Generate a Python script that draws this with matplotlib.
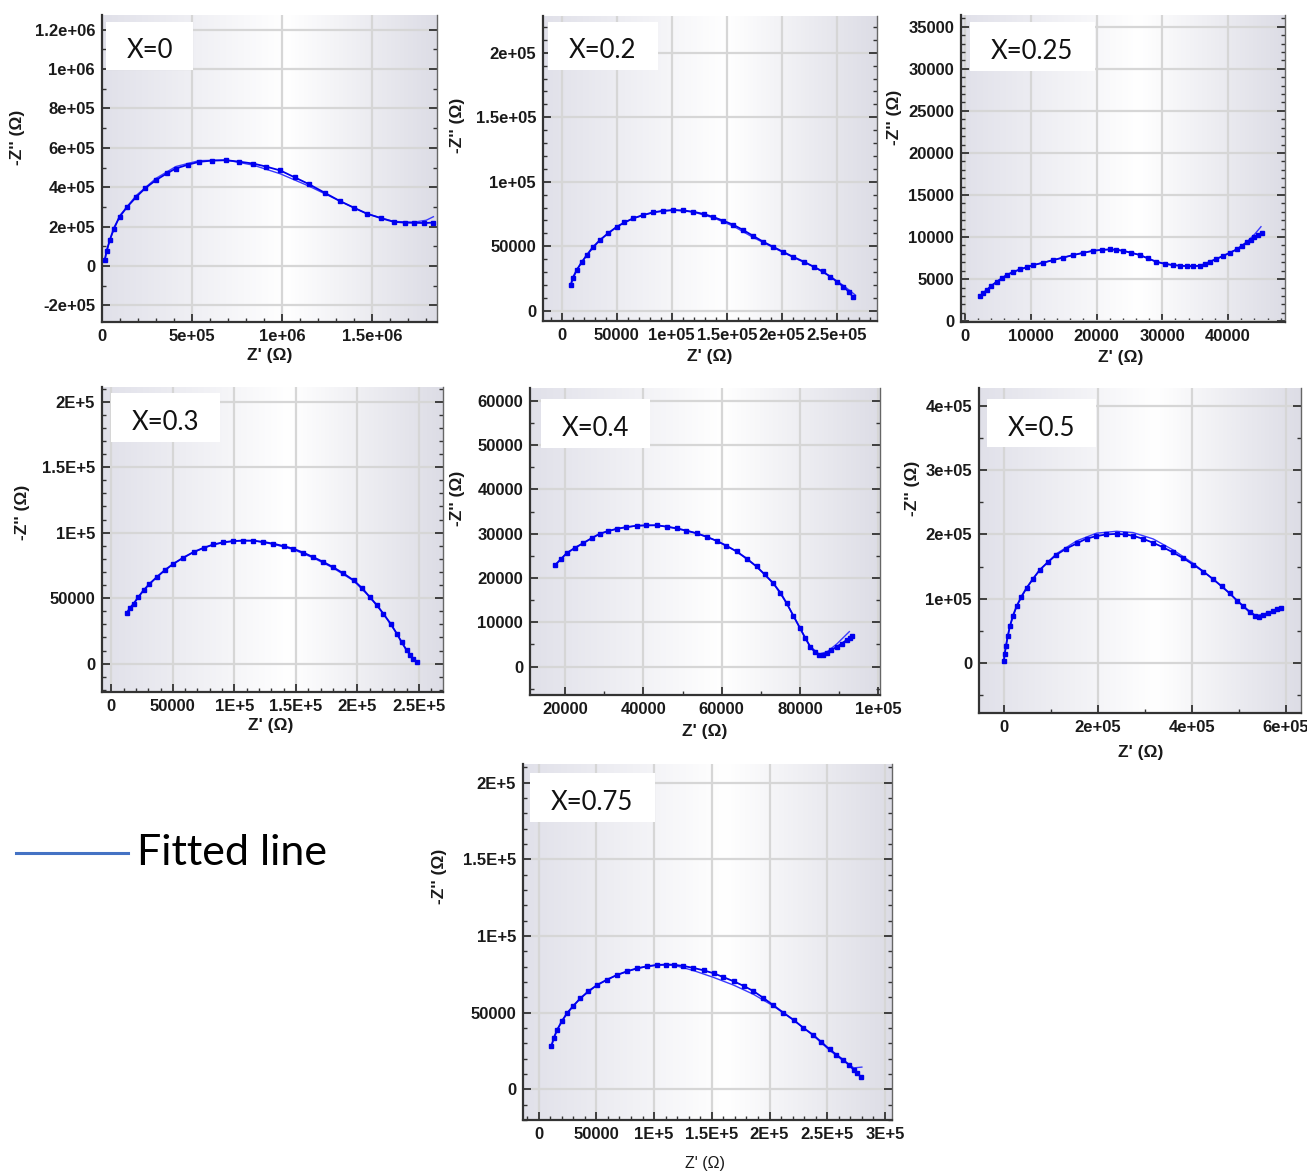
import numpy as np
import matplotlib
matplotlib.use("Agg")
import matplotlib.pyplot as plt
from matplotlib.patches import Rectangle
from matplotlib.lines import Line2D
from matplotlib.ticker import AutoMinorLocator
from matplotlib.colors import LinearSegmentedColormap

W, H = 1307, 1176

plt.rcParams['font.family'] = ['Liberation Sans', 'DejaVu Sans']
plt.rcParams['font.weight'] = 'bold'
plt.rcParams['axes.labelweight'] = 'bold'

# ---- data ----
titles = ["X=0", "X=0.2", "X=0.25", "X=0.3", "X=0.4", "X=0.5", "X=0.75"]

# X=0
x0_data = [1.5e4, 2.5e4, 4.3e4, 6.5e4, 9.8e4, 1.4e5, 1.9e5, 2.4e5, 3.0e5, 3.6e5, 4.1e5, 4.8e5, 5.4e5, 6.1e5,
           6.9e5, 7.6e5, 8.4e5, 9.1e5, 9.9e5, 1.07e6, 1.15e6, 1.24e6, 1.32e6, 1.4e6, 1.47e6, 1.55e6, 1.62e6,
           1.68e6, 1.73e6, 1.79e6, 1.84e6]
y0_data = [2.9e4, 7.5e4, 1.3e5, 1.9e5, 2.5e5, 3.0e5, 3.5e5, 3.95e5, 4.36e5, 4.7e5, 4.95e5, 5.15e5, 5.29e5, 5.35e5,
           5.37e5, 5.3e5, 5.2e5, 5.05e5, 4.85e5, 4.5e5, 4.15e5, 3.7e5, 3.3e5, 2.95e5, 2.66e5, 2.42e5, 2.24e5,
           2.2e5, 2.19e5, 2.18e5, 2.2e5]
x0_fit = [1.5e4, 4.3e4, 9.8e4, 1.9e5, 3.0e5, 4.1e5, 5.4e5, 6.9e5, 8.4e5, 9.9e5, 1.15e6, 1.32e6, 1.47e6, 1.62e6,
          1.73e6, 1.8e6, 1.84e6]
y0_fit = [2.9e4, 1.32e5, 2.55e5, 3.58e5, 4.45e5, 5.05e5, 5.35e5, 5.38e5, 5.12e5, 4.68e5, 4.05e5, 3.3e5, 2.65e5,
          2.26e5, 2.22e5, 2.32e5, 2.5e5]

# X=0.2
x1_data = [8.2e3, 1.0e4, 1.36e4, 1.8e4, 2.27e4, 2.8e4, 3.48e4, 4.2e4, 5.0e4, 5.7e4, 6.5e4, 7.4e4, 8.3e4, 9.2e4,
           1.015e5, 1.1e5, 1.197e5, 1.29e5, 1.379e5, 1.47e5, 1.56e5, 1.65e5, 1.74e5, 1.83e5, 1.92e5, 2.01e5,
           2.1e5, 2.2e5, 2.29e5, 2.37e5, 2.44e5, 2.5e5, 2.56e5, 2.61e5, 2.65e5]
y1_data = [1.99e4, 2.55e4, 3.15e4, 3.75e4, 4.3e4, 4.9e4, 5.48e4, 6.0e4, 6.5e4, 6.85e4, 7.16e4, 7.42e4, 7.62e4,
           7.75e4, 7.8e4, 7.78e4, 7.67e4, 7.5e4, 7.26e4, 6.97e4, 6.66e4, 6.25e4, 5.8e4, 5.35e4, 4.96e4, 4.57e4,
           4.19e4, 3.8e4, 3.41e4, 3.05e4, 2.64e4, 2.25e4, 1.86e4, 1.45e4, 1.03e4]
x1_fit = [8.2e3, 1.36e4, 2.27e4, 3.48e4, 5.0e4, 6.5e4, 8.3e4, 1.015e5, 1.197e5, 1.379e5, 1.56e5, 1.74e5, 1.92e5,
          2.1e5, 2.29e5, 2.44e5, 2.56e5, 2.67e5]
y1_fit = [1.99e4, 3.15e4, 4.3e4, 5.48e4, 6.5e4, 7.16e4, 7.62e4, 7.8e4, 7.65e4, 7.2e4, 6.55e4, 5.68e4, 4.9e4,
          4.15e4, 3.4e4, 2.66e4, 1.95e4, 1.2e4]

# X=0.25
x2_data = [2280, 2800, 3290, 4000, 4810, 5600, 6330, 7300, 8350, 9400, 1.04e4, 1.19e4, 1.34e4, 1.49e4, 1.646e4,
           1.8e4, 1.95e4, 2.08e4, 2.2e4, 2.3e4, 2.4e4, 2.53e4, 2.66e4, 2.78e4, 2.91e4, 3.04e4, 3.16e4, 3.27e4,
           3.37e4, 3.47e4, 3.57e4, 3.65e4, 3.72e4, 3.82e4, 3.92e4, 4.03e4, 4.13e4, 4.21e4, 4.28e4, 4.35e4,
           4.4e4, 4.46e4, 4.52e4]
y2_data = [2980, 3350, 3690, 4200, 4680, 5100, 5480, 5850, 6150, 6420, 6670, 6950, 7260, 7560, 7860, 8130, 8370,
           8480, 8530, 8500, 8370, 8130, 7860, 7460, 7060, 6800, 6670, 6580, 6550, 6530, 6590, 6780, 7060, 7390,
           7740, 8140, 8530, 8950, 9370, 9680, 9960, 10200, 10440]
x2_fit = [2280, 3290, 4810, 6330, 8350, 1.04e4, 1.34e4, 1.646e4, 1.95e4, 2.2e4, 2.4e4, 2.66e4, 2.91e4, 3.16e4,
          3.37e4, 3.57e4, 3.72e4, 3.92e4, 4.13e4, 4.28e4, 4.4e4, 4.5e4]
y2_fit = [2980, 3690, 4680, 5480, 6150, 6670, 7260, 7860, 8370, 8530, 8370, 7860, 7060, 6670, 6550, 6590, 7060,
          7740, 8530, 9370, 10300, 11230]

# X=0.3
x3_data = [1.27e4, 1.5e4, 1.81e4, 2.2e4, 2.62e4, 3.1e4, 3.7e4, 4.35e4, 5.05e4, 5.85e4, 6.68e4, 7.5e4, 8.3e4,
           9.1e4, 9.9e4, 1.07e5, 1.154e5, 1.235e5, 1.316e5, 1.4e5, 1.478e5, 1.56e5, 1.64e5, 1.72e5, 1.8e5,
           1.885e5, 1.97e5, 2.04e5, 2.1e5, 2.16e5, 2.21e5, 2.27e5, 2.32e5, 2.36e5, 2.4e5, 2.43e5, 2.45e5, 2.48e5]
y3_data = [3.89e4, 4.25e4, 4.58e4, 5.1e4, 5.6e4, 6.1e4, 6.62e4, 7.15e4, 7.63e4, 8.1e4, 8.52e4, 8.85e4, 9.1e4,
           9.27e4, 9.36e4, 9.4e4, 9.39e4, 9.3e4, 9.16e4, 8.98e4, 8.78e4, 8.48e4, 8.14e4, 7.78e4, 7.38e4, 6.9e4,
           6.36e4, 5.75e4, 5.09e4, 4.45e4, 3.82e4, 3.05e4, 2.29e4, 1.62e4, 1.02e4, 6.5e3, 3.8e3, 1.3e3]
x3_fit = [1.27e4, 1.81e4, 2.62e4, 3.7e4, 5.05e4, 6.68e4, 8.3e4, 9.9e4, 1.154e5, 1.316e5, 1.478e5, 1.64e5,
          1.8e5, 1.97e5, 2.1e5, 2.21e5, 2.32e5, 2.4e5, 2.45e5, 2.48e5]
y3_fit = [3.89e4, 4.58e4, 5.6e4, 6.62e4, 7.63e4, 8.52e4, 9.1e4, 9.36e4, 9.39e4, 9.12e4, 8.72e4, 8.08e4, 7.32e4,
          6.32e4, 5.09e4, 3.82e4, 2.29e4, 1.02e4, 3.8e3, 1.3e3]

# X=0.4
x4_data = [1.745e4, 1.9e4, 2.04e4, 2.25e4, 2.47e4, 2.68e4, 2.89e4, 3.1e4, 3.32e4, 3.57e4, 3.83e4, 4.08e4,
           4.34e4, 4.6e4, 4.85e4, 5.1e4, 5.36e4, 5.62e4, 5.87e4, 6.12e4, 6.38e4, 6.64e4, 6.89e4, 7.1e4, 7.32e4,
           7.5e4, 7.66e4, 7.83e4, 8.0e4, 8.13e4, 8.26e4, 8.38e4, 8.49e4, 8.58e4, 8.68e4, 8.8e4, 8.94e4, 9.06e4,
           9.19e4, 9.27e4, 9.34e4]
y4_data = [2.29e4, 2.43e4, 2.56e4, 2.68e4, 2.79e4, 2.9e4, 3.0e4, 3.06e4, 3.11e4, 3.15e4, 3.18e4, 3.19e4,
           3.19e4, 3.16e4, 3.12e4, 3.07e4, 3.01e4, 2.93e4, 2.84e4, 2.73e4, 2.6e4, 2.44e4, 2.26e4, 2.08e4,
           1.88e4, 1.67e4, 1.43e4, 1.15e4, 8.7e3, 6.5e3, 4.5e3, 3.3e3, 2.6e3, 2.6e3, 3.0e3, 3.7e3, 4.5e3,
           5.2e3, 6.0e3, 6.5e3, 6.9e3]
x4_fit = [1.745e4, 2.04e4, 2.47e4, 2.89e4, 3.32e4, 3.83e4, 4.34e4, 4.85e4, 5.36e4, 5.87e4, 6.38e4, 6.89e4,
          7.32e4, 7.66e4, 8.0e4, 8.26e4, 8.49e4, 8.7e4, 8.95e4, 9.26e4]
y4_fit = [2.29e4, 2.56e4, 2.79e4, 3.0e4, 3.11e4, 3.18e4, 3.19e4, 3.12e4, 3.01e4, 2.84e4, 2.6e4, 2.26e4,
          1.88e4, 1.43e4, 8.7e3, 4.6e3, 2.8e3, 3.4e3, 5.2e3, 7.9e3]

# X=0.5
x5_data = [0, 1.5e3, 4.3e3, 8e3, 1.28e4, 1.9e4, 2.7e4, 3.7e4, 4.83e4, 6.2e4, 7.67e4, 9.4e4, 1.12e5, 1.33e5,
           1.55e5, 1.76e5, 1.97e5, 2.18e5, 2.4e5, 2.58e5, 2.75e5, 2.97e5, 3.18e5, 3.39e5, 3.6e5, 3.82e5, 4.03e5,
           4.25e5, 4.46e5, 4.64e5, 4.81e5, 4.96e5, 5.1e5, 5.23e5, 5.35e5, 5.44e5, 5.52e5, 5.63e5, 5.74e5,
           5.82e5, 5.89e5]
y5_data = [3e3, 1.3e4, 2.55e4, 4.1e4, 5.67e4, 7.3e4, 8.79e4, 1.03e5, 1.165e5, 1.31e5, 1.45e5, 1.57e5, 1.685e5,
           1.78e5, 1.86e5, 1.935e5, 1.975e5, 2.0e5, 2.01e5, 2.0e5, 1.98e5, 1.93e5, 1.87e5, 1.8e5, 1.72e5,
           1.63e5, 1.53e5, 1.42e5, 1.3e5, 1.19e5, 1.08e5, 9.7e4, 8.79e4, 7.9e4, 7.33e4, 7.2e4, 7.49e4, 7.8e4,
           8.0e4, 8.3e4, 8.58e4]
x5_fit = [0, 4.3e3, 1.28e4, 2.7e4, 4.83e4, 7.67e4, 1.12e5, 1.55e5, 1.97e5, 2.4e5, 2.75e5, 3.18e5, 3.6e5,
          4.03e5, 4.46e5, 4.81e5, 5.1e5, 5.35e5, 5.52e5, 5.74e5, 5.89e5]
y5_fit = [3e3, 2.55e4, 5.67e4, 8.79e4, 1.165e5, 1.451e5, 1.7e5, 1.9e5, 2.02e5, 2.05e5, 2.03e5, 1.93e5, 1.76e5,
          1.55e5, 1.3e5, 1.08e5, 8.8e4, 7.4e4, 7.5e4, 8.0e4, 8.6e4]

# X=0.75
x6_data = [1.1e4, 1.3e4, 1.59e4, 2.0e4, 2.45e4, 3.0e4, 3.6e4, 4.3e4, 5.05e4, 5.9e4, 6.78e4, 7.65e4, 8.51e4,
           9.4e4, 1.024e5, 1.1e5, 1.169e5, 1.25e5, 1.34e5, 1.43e5, 1.515e5, 1.6e5, 1.688e5, 1.775e5, 1.86e5,
           1.945e5, 2.03e5, 2.12e5, 2.21e5, 2.29e5, 2.38e5, 2.45e5, 2.52e5, 2.58e5, 2.64e5, 2.69e5, 2.73e5,
           2.76e5, 2.79e5]
y6_data = [2.83e4, 3.35e4, 3.87e4, 4.45e4, 4.96e4, 5.45e4, 5.93e4, 6.4e4, 6.8e4, 7.15e4, 7.46e4, 7.7e4, 7.89e4,
           8.03e4, 8.11e4, 8.14e4, 8.13e4, 8.05e4, 7.92e4, 7.76e4, 7.57e4, 7.32e4, 7.05e4, 6.75e4, 6.41e4,
           5.97e4, 5.5e4, 5.0e4, 4.52e4, 4.03e4, 3.54e4, 3.08e4, 2.61e4, 2.26e4, 1.91e4, 1.6e4, 1.26e4, 1.05e4,
           8.3e3]
x6_fit = [1.1e4, 1.59e4, 2.45e4, 3.6e4, 5.05e4, 6.78e4, 8.51e4, 1.024e5, 1.169e5, 1.34e5, 1.515e5, 1.688e5,
          1.86e5, 2.03e5, 2.21e5, 2.38e5, 2.52e5, 2.64e5, 2.73e5, 2.8e5]
y6_fit = [2.83e4, 3.87e4, 4.96e4, 5.93e4, 6.8e4, 7.46e4, 7.89e4, 8.11e4, 8.1e4, 7.75e4, 7.3e4, 6.8e4, 6.2e4,
          5.45e4, 4.5e4, 3.5e4, 2.55e4, 1.85e4, 1.4e4, 1.45e4]

# tick values and labels
xt0 = [0, 5e5, 1e6, 1.5e6]; xl0 = ["0", "5e+05", "1e+06", "1.5e+06"]
yt0 = [-2e5, 0, 2e5, 4e5, 6e5, 8e5, 1e6, 1.2e6]
yl0 = ["-2e+05", "0", "2e+05", "4e+05", "6e+05", "8e+05", "1e+06", "1.2e+06"]
xt1 = [0, 5e4, 1e5, 1.5e5, 2e5, 2.5e5]; xl1 = ["0", "50000", "1e+05", "1.5e+05", "2e+05", "2.5e+05"]
yt1 = [0, 5e4, 1e5, 1.5e5, 2e5]; yl1 = ["0", "50000", "1e+05", "1.5e+05", "2e+05"]
xt2 = [0, 1e4, 2e4, 3e4, 4e4]; xl2 = ["0", "10000", "20000", "30000", "40000"]
yt2 = [0, 5000, 10000, 15000, 20000, 25000, 30000, 35000]
yl2 = ["0", "5000", "10000", "15000", "20000", "25000", "30000", "35000"]
xt3 = [0, 5e4, 1e5, 1.5e5, 2e5, 2.5e5]; xl3 = ["0", "50000", "1E+5", "1.5E+5", "2E+5", "2.5E+5"]
yt3 = [0, 5e4, 1e5, 1.5e5, 2e5]; yl3 = ["0", "50000", "1E+5", "1.5E+5", "2E+5"]
xt4 = [2e4, 4e4, 6e4, 8e4, 1e5]; xl4 = ["20000", "40000", "60000", "80000", "1e+05"]
yt4 = [0, 1e4, 2e4, 3e4, 4e4, 5e4, 6e4]; yl4 = ["0", "10000", "20000", "30000", "40000", "50000", "60000"]
xt5 = [0, 2e5, 4e5, 6e5]; xl5 = ["0", "2e+05", "4e+05", "6e+05"]
yt5 = [0, 1e5, 2e5, 3e5, 4e5]; yl5 = ["0", "1e+05", "2e+05", "3e+05", "4e+05"]
xt6 = [0, 5e4, 1e5, 1.5e5, 2e5, 2.5e5, 3e5]; xl6 = ["0", "50000", "1E+5", "1.5E+5", "2E+5", "2.5E+5", "3E+5"]
yt6 = [0, 5e4, 1e5, 1.5e5, 2e5]; yl6 = ["0", "50000", "1E+5", "1.5E+5", "2E+5"]

# ---- layout (pixels) ----
panels = [
    dict(d=(x0_data, y0_data), f=(x0_fit, y0_fit), xt=(xt0, xl0), yt=(yt0, yl0),
         box=(102, 15, 437, 322), xlim=(0, 1.86e6), ylim=(-2.85e5, 1.275e6),
         tbox=(106, 22, 193, 70), yl=(18, 137), xl=(270, 355), minor=(5, 2)),
    dict(d=(x1_data, y1_data), f=(x1_fit, y1_fit), xt=(xt1, xl1), yt=(yt1, yl1),
         box=(543, 16, 877, 321), xlim=(-1.7e4, 2.865e5), ylim=(-8000, 2.285e5),
         tbox=(548, 22, 658, 70), yl=(458, 125), xl=(710, 356), minor=(5, 5)),
    dict(d=(x2_data, y2_data), f=(x2_fit, y2_fit), xt=(xt2, xl2), yt=(yt2, yl2),
         box=(961, 15, 1285, 322), xlim=(-600, 48650), ylim=(-100, 36400),
         tbox=(970, 22, 1095, 71), yl=(895, 117), xl=(1121, 357), minor=(5, 5)),
    dict(d=(x3_data, y3_data), f=(x3_fit, y3_fit), xt=(xt3, xl3), yt=(yt3, yl3),
         box=(102, 387, 443, 692), xlim=(-7570, 2.695e5), ylim=(-2.16e4, 2.112e5),
         tbox=(111, 393, 220, 442), yl=(23, 512), xl=(271, 725), minor=(5, 5)),
    dict(d=(x4_data, y4_data), f=(x4_fit, y4_fit), xt=(xt4, xl4), yt=(yt4, yl4),
         box=(530, 388, 880, 695), xlim=(1.106e4, 1.0043e5), ylim=(-6400, 62880),
         tbox=(541, 399, 650, 448), yl=(458, 498), xl=(705, 731), minor=(2, 2)),
    dict(d=(x5_data, y5_data), f=(x5_fit, y5_fit), xt=(xt5, xl5), yt=(yt5, yl5),
         box=(979, 388, 1301, 713), xlim=(-5.3e4, 6.326e5), ylim=(-7.85e4, 4.285e5),
         tbox=(987, 399, 1096, 447), yl=(913, 488), xl=(1141, 752), minor=(2, 2)),
    dict(d=(x6_data, y6_data), f=(x6_fit, y6_fit), xt=(xt6, xl6), yt=(yt6, yl6),
         box=(523, 764, 892, 1120), xlim=(-1.36e4, 3.061e5), ylim=(-2e4, 2.122e5),
         tbox=(530, 773, 655, 822), yl=(440, 876), xl=(705, 1163), minor=(5, 5)),
]

title_font = "Lato"
edge = (0.88, 0.88, 0.915)
bg_cmap = LinearSegmentedColormap.from_list(
    "bg", [(0.0, edge), (0.55, (1, 1, 1)), (1.0, (0.865, 0.865, 0.9))])
grad = np.linspace(0, 1, 256).reshape(1, -1)

fig = plt.figure(figsize=(W / 100, H / 100), dpi=100)
fig.patch.set_facecolor("white")

for i, p in enumerate(panels):
    l, t, r, b = p["box"]
    ax = fig.add_axes([l / W, 1 - b / H, (r - l) / W, (b - t) / H])
    ax.imshow(grad, extent=[0, 1, 0, 1], transform=ax.transAxes, aspect="auto",
              cmap=bg_cmap, zorder=0, interpolation="bilinear")
    ax.grid(True, color="#d6d6d6", lw=1.6)
    ax.set_axisbelow(True)

    # fitted line + measured points
    ax.plot(p["f"][0], p["f"][1], color="#3a3aff", lw=1.0, zorder=4)
    ax.plot(p["d"][0], p["d"][1], ls="-", lw=1.3, marker="s", ms=2.4, color="#0000ee",
            mec="#0000ee", zorder=5)

    ax.set_xlim(*p["xlim"])
    ax.set_ylim(*p["ylim"])
    ax.set_xticks(p["xt"][0])
    ax.set_xticklabels(p["xt"][1])
    ax.set_yticks(p["yt"][0])
    ax.set_yticklabels(p["yt"][1])
    ax.xaxis.set_minor_locator(AutoMinorLocator(p["minor"][0]))
    ax.yaxis.set_minor_locator(AutoMinorLocator(p["minor"][1]))
    ax.tick_params(which="both", direction="in", right=True, top=False, colors="#333333")
    ax.tick_params(which="major", length=6, width=1.3, labelsize=12, pad=5, labelcolor="#1a1a1a")
    ax.tick_params(which="minor", length=3, width=1.0)

    ax.spines["top"].set_visible(False)
    for s in ("left", "bottom"):
        ax.spines[s].set_color("#333333")
        ax.spines[s].set_linewidth(1.6)
    ax.spines["right"].set_color("#666666")
    ax.spines["right"].set_linewidth(1.0)

    # axis labels (label coords point at the right edge / top of the text)
    ax.set_ylabel("-Z'' (\u03a9)", fontsize=12.5, fontweight="bold", color="#1a1a1a")
    ax.yaxis.set_label_coords((p["yl"][0] + 7 - l) / (r - l), (b - p["yl"][1]) / (b - t))
    if i == 6:
        ax.set_xlabel("Z' (\u03a9)", fontsize=11.5, fontweight="normal", color="#1a1a1a")
    else:
        ax.set_xlabel("Z' (\u03a9)", fontsize=12.5, fontweight="bold", color="#1a1a1a")
    ax.xaxis.set_label_coords((p["xl"][0] - l) / (r - l), (b - p["xl"][1] + 7) / (b - t))

    # white label box with composition
    bl, bt, br, bb = p["tbox"]
    ax.add_patch(Rectangle(((bl - l) / (r - l), (b - bb) / (b - t)), (br - bl) / (r - l), (bb - bt) / (b - t),
                           transform=ax.transAxes, facecolor="white", edgecolor="none", zorder=3,
                           clip_on=False))
    ax.text((bl + 21 - l) / (r - l), (b - (bt + bb) / 2 - 5) / (b - t), titles[i], transform=ax.transAxes,
            ha="left", va="center", fontsize=18.5, family=title_font, fontweight="normal",
            color="#111111", zorder=6)

# legend for the fitted line
fig.add_artist(Line2D([16 / W, 128 / W], [1 - 853 / H, 1 - 853 / H], color="#4472c4", lw=2.2))
fig.text(137 / W, 1 - 853 / H, "Fitted line", ha="left", va="center", fontsize=31,
         family=title_font, fontweight="normal", color="black")

fig.savefig("out.png", dpi=100)
